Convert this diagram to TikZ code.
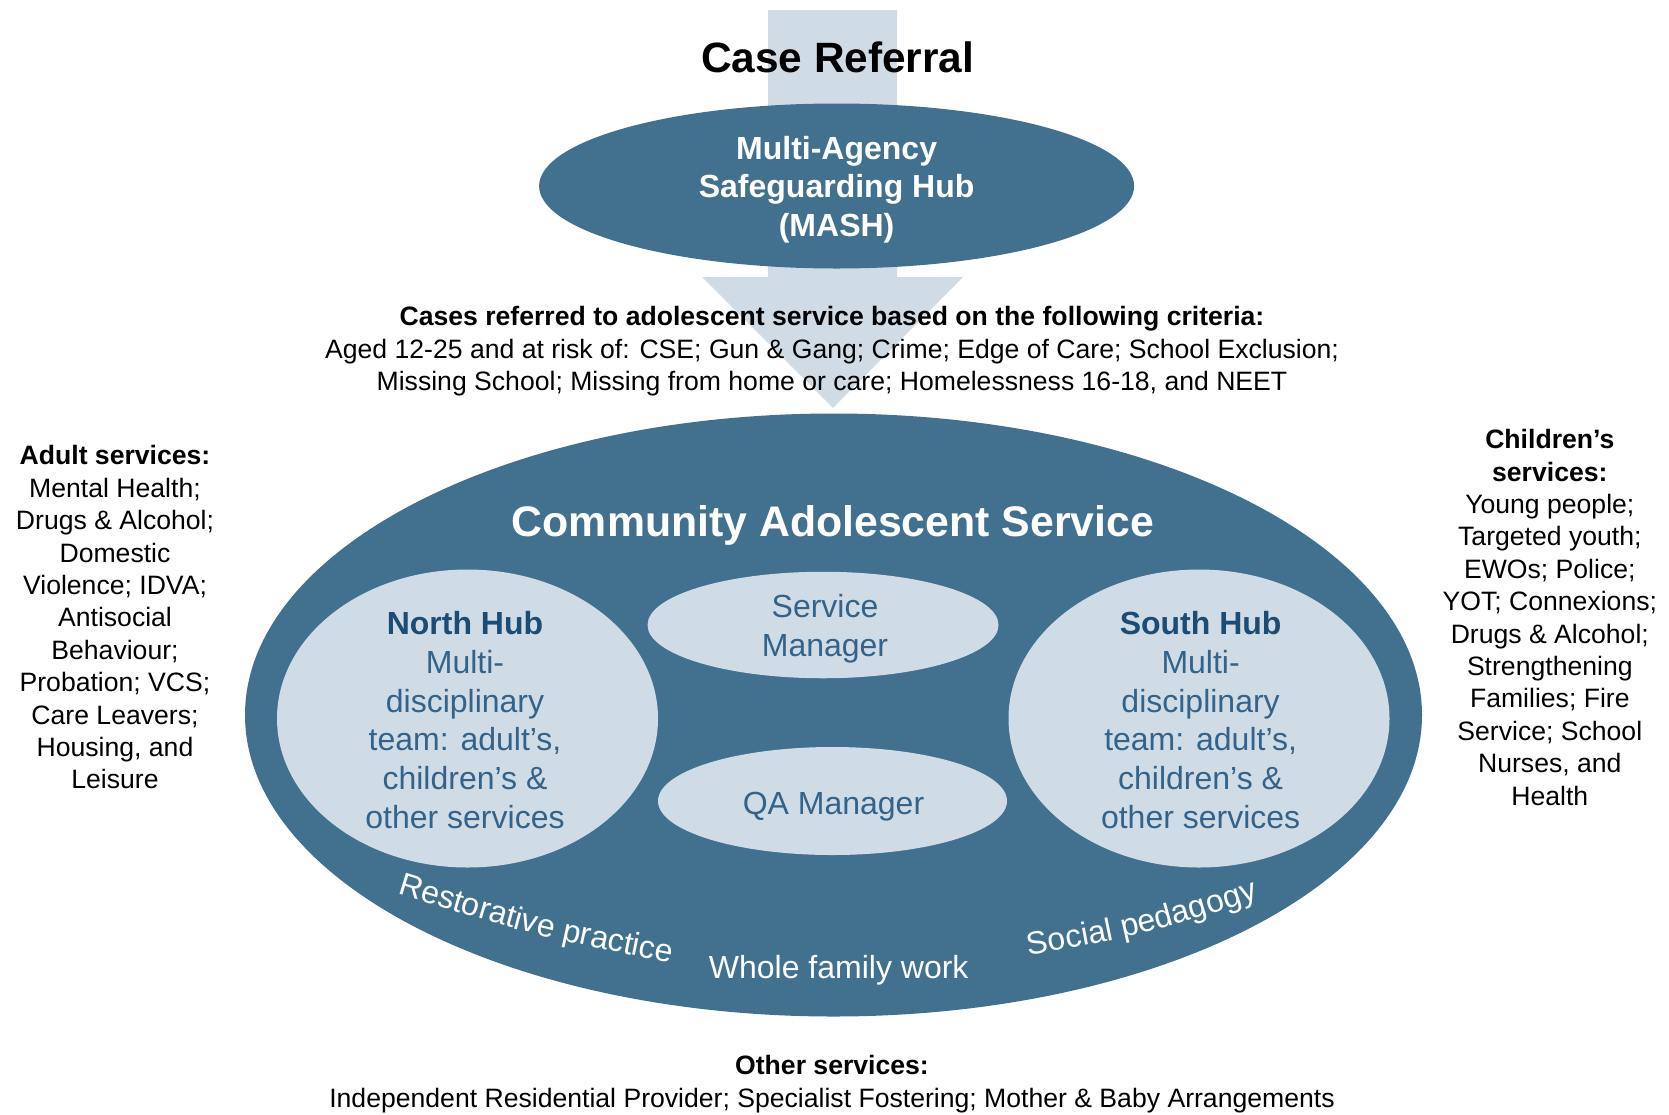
\documentclass[tikz,border=0pt]{standalone}
\usepackage{fontspec}
\setmainfont{Liberation Sans}
\usepackage{xcolor}
\usetikzlibrary{shapes.geometric, decorations.text}
\definecolor{casblue}{HTML}{41718F}
\definecolor{caslight}{HTML}{D0DCE5}
\definecolor{hubdark}{HTML}{1B4C73}
\definecolor{hubtext}{HTML}{33638A}

\begin{document}
\begin{tikzpicture}[x=0.5pt, y=-0.5pt,
  blob/.style={ellipse, fill=casblue, inner sep=0pt},
  pale/.style={ellipse, fill=caslight, inner sep=0pt},
  side/.style={align=center, font=\fontsize{13.3}{16.2}\selectfont},
  inner/.style={align=center, text=hubtext, font=\fontsize{16}{19.4}\selectfont},
  curved/.style={decorate, decoration={text along path, text align=center, text color=white,
    text={|\fontsize{16}{19}\selectfont|#1}}}]
  \useasboundingbox (0,0) rectangle (1669,1114);

  \fill[caslight] (768,10) -- (897,10) -- (897,277) -- (963,277) -- (833,408)
    -- (702,277) -- (768,277) -- cycle;

  \node[font=\fontsize{21.2}{25}\selectfont\bfseries] (a) at (837.7,57.5) {Case Referral};
  \node[blob, minimum width=297.5pt, minimum height=82.5pt] (b) at (836.6,186) {};
  \node[align=center, text=white, font=\fontsize{16}{19.2}\selectfont\bfseries] (c) at (836.6,189.5)
    {Multi-Agency\\Safeguarding Hub\\(MASH)};
  \node[side] (d) at (832,351.5) {\textbf{Cases referred to adolescent service based on the following criteria:}\\
    Aged 12-25 and at risk of: CSE; Gun \& Gang; Crime; Edge of Care; School Exclusion;\\
    Missing School; Missing from home or care; Homelessness 16-18, and NEET};

  \node[blob, minimum width=588.5pt, minimum height=301.5pt] (e) at (833.5,715) {};
  \node[text=white, font=\fontsize{21.4}{25}\selectfont\bfseries] (f) at (833,525)
    {Community Adolescent Service};

  \node[pale, minimum width=190.5pt, minimum height=149pt] (g) at (467.5,718.5) {};
  \node[pale, minimum width=190.5pt, minimum height=149pt] (h) at (1199,718.5) {};
  \node[pale, minimum width=175.5pt, minimum height=53.25pt] (i) at (823,625) {};
  \node[pale, minimum width=174.5pt, minimum height=54pt] (j) at (832.5,801) {};

  \node[inner] (k) at (465,720) {\textcolor{hubdark}{\textbf{North Hub}}\\Multi-\\disciplinary\\
    team: adult’s,\\children’s \&\\other services};
  \node[inner] (l) at (1200.6,720) {\textcolor{hubdark}{\textbf{South Hub}}\\Multi-\\disciplinary\\
    team: adult’s,\\children’s \&\\other services};
  \node[inner] (m) at (825,629) {Service\\Manager};
  \node[inner] (n) at (833.5,807) {QA Manager};

  \path[curved=Restorative practice] (396,893) .. controls (532,935) .. (672,963);
  \node[text=white, font=\fontsize{16}{19}\selectfont] (o) at (838.7,970) {Whole family work};
  \path[curved=Social pedagogy] (1025,956) .. controls (1140,936) .. (1262,898);

  \node[side] (p) at (115,617.3) {\textbf{Adult services:}\\Mental Health;\\Drugs \& Alcohol;\\
    Domestic\\Violence; IDVA;\\Antisocial\\Behaviour;\\Probation; VCS;\\Care Leavers;\\
    Housing, and\\Leisure};
  \node[side] (q) at (1549.8,617.3) {\textbf{Children’s}\\\textbf{services:}\\Young people;\\
    Targeted youth;\\EWOs; Police;\\YOT; Connexions;\\Drugs \& Alcohol;\\Strengthening\\
    Families; Fire\\Service; School\\Nurses, and\\Health};
  \node[side] (r) at (832,1084) {\textbf{Other services:}\\
    Independent Residential Provider; Specialist Fostering; Mother \& Baby Arrangements};
\end{tikzpicture}
\end{document}
